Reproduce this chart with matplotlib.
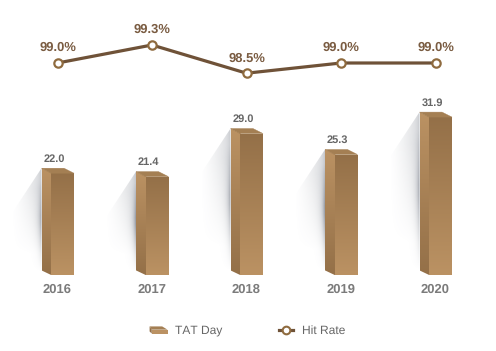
import numpy as np
import matplotlib
matplotlib.use('Agg')
import matplotlib.pyplot as plt
from matplotlib.lines import Line2D
from matplotlib.patches import Patch, Polygon
from matplotlib.legend_handler import HandlerBase

plt.rcParams['font.family'] = ['Liberation Sans', 'DejaVu Sans']
plt.rcParams['text.hinting'] = 'none'
plt.rcParams['text.hinting_factor'] = 1

years = ['2016', '2017', '2018', '2019', '2020']
tat_day = [22.0, 21.4, 29.0, 25.3, 31.9]
hit_rate_labels = ['99.0%', '99.3%', '98.5%', '99.0%', '99.0%']
# the 2018 point sits much higher than 98.5 would on the drawn scale, so keep its drawn height
hit_rate = [99.0, 99.3, 98.83, 99.0, 99.0]

W, H = 496, 351
PX_X = 94.5    # pixels per category
PX_V = 5.66    # pixels per TAT day
PX_R = 60.0    # pixels per hit rate point
BASE = 3.09    # TAT value at the bars' foot

LIGHT = np.array([187, 146, 99]) / 255
DARK = np.array([148, 112, 72]) / 255

fig = plt.figure(figsize=(W / 100, H / 100), dpi=100)
ax = fig.add_axes([0, 0, 1, 1])
ax.axis('off')
xlim = (-57.5 / PX_X, (W - 57.5) / PX_X)
ylim = (-10.25, 51.68)


def vgrad(top, bottom, poly, zorder=3):
    # vertical colour gradient clipped to a polygon
    t = np.linspace(0, 1, 64)[:, None, None]
    img = top * (1 - t) + bottom * t
    xs, ys = zip(*poly)
    im = ax.imshow(img, extent=(min(xs), max(xs), min(ys), max(ys)), origin='upper',
                   aspect='auto', interpolation='bilinear', zorder=zorder)
    patch = Polygon(poly, closed=True, transform=ax.transData, fill=False, edgecolor='none')
    ax.add_patch(patch)
    im.set_clip_path(patch)


def shadow(x_edge, top):
    # soft grey cast shadow left of the bar
    dx = 31 / PX_X
    dy = 47 / PX_V
    poly = [(x_edge, top), (x_edge - dx, top - dy), (x_edge - dx, BASE), (x_edge, BASE)]
    u = np.linspace(1, 0, 80)    # 0 at the bar
    v = np.linspace(0, 1, 120)   # 0 at the bar top
    uu, vv = np.meshgrid(u, v)
    ridge = 0.6 * np.exp(-uu / 0.09) * np.clip(vv / 0.45, 0.25, 1) * np.clip((0.97 - vv) / 0.45, 0, 1)
    broad = 0.26 * (1 - uu) ** 1.3 * np.clip((0.8 - vv) / 0.6, 0, 1)
    img = np.zeros((120, 80, 4))
    img[..., :3] = np.array([112, 118, 130]) / 255
    img[..., 3] = np.clip(ridge + broad, 0, 1)
    im = ax.imshow(img, extent=(x_edge - dx, x_edge, BASE, top), origin='upper',
                   aspect='auto', interpolation='bilinear', zorder=2)
    patch = Polygon(poly, closed=True, transform=ax.transData, fill=False, edgecolor='none')
    ax.add_patch(patch)
    im.set_clip_path(patch)


for i, (year, val) in enumerate(zip(years, tat_day)):
    x0 = i - 16 / PX_X      # back left
    x1 = i - 6.5 / PX_X     # front left
    x2 = i + 16.5 / PX_X    # front right
    x3 = i + 6.5 / PX_X     # back right
    d = 5 / PX_V
    shadow(x0, val)
    # side face, runs under the front face so no seam shows
    vgrad(LIGHT, DARK, [(x0, val), (x1 + 1 / PX_X, val - d), (x1 + 1 / PX_X, BASE), (x0, BASE + d)])
    # front face
    vgrad(DARK, LIGHT, [(x1, val - d), (x2, val - d), (x2, BASE), (x1, BASE)], zorder=3.1)
    # top face
    ax.add_patch(Polygon([(x0, val), (x3, val), (x2, val - d), (x1, val - d)], closed=True,
                         facecolor='#a47f53', edgecolor='#a47f53', lw=0.3, zorder=3.2))
    ax.text(i - 3.5 / PX_X, val + 4 / PX_V, f'{val:.1f}', ha='center', va='bottom',
            fontsize=8.1, fontweight='bold', color='#666666', zorder=5)
    ax.text(i, BASE - 14 / PX_V, year, ha='center', va='center',
            fontsize=9.3, fontweight='bold', color='#7b7b7b', zorder=5)

ax.set_xlim(xlim)
ax.set_ylim(ylim)

ax2 = ax.twinx()
ax2.axis('off')
ax2.set_ylim(99 - 288 / PX_R, 99 + 63 / PX_R)
ax2.plot(range(len(years)), hit_rate, color='#6f5238', lw=2.3, marker='o', ms=6, mfc='white',
         mec='#8f6b3f', mew=1.6, zorder=4)
for i, (r, lab) in enumerate(zip(hit_rate, hit_rate_labels)):
    ax2.text(i, r + 9 / PX_R, lab, ha='center', va='bottom', fontsize=9.0,
             color='#7a5c42', fontweight='bold')


class BoxHandler(HandlerBase):
    def create_artists(self, legend, orig, xd, yd, w, h, fs, trans):
        top = Polygon([(0, h), (w * 0.7, h), (w, h * 0.55), (w * 0.12, h * 0.55)], closed=True,
                      facecolor='#a47f53', edgecolor='none', transform=trans)
        front = Polygon([(w * 0.12, h * 0.55), (w, h * 0.55), (w, 0), (w * 0.12, 0)], closed=True,
                        facecolor=LIGHT, edgecolor='none', transform=trans)
        side = Polygon([(0, h), (w * 0.12, h * 0.55), (w * 0.12, 0), (0, h * 0.3)], closed=True,
                       facecolor=DARK, edgecolor='none', transform=trans)
        return [top, front, side]


class ShortLineHandler(HandlerBase):
    def create_artists(self, legend, orig, xd, yd, w, h, fs, trans):
        line = Line2D([w * 0.13, w * 0.87], [h / 2, h / 2], color=orig.get_color(),
                      lw=orig.get_linewidth(), transform=trans)
        ring = Line2D([w / 2], [h / 2], marker='o', ms=orig.get_markersize(), mfc='white',
                      mec=orig.get_markeredgecolor(), mew=orig.get_markeredgewidth(),
                      ls='none', transform=trans)
        return [line, ring]


handles = [Patch(label='TAT Day'),
           Line2D([0], [0], color='#6f5238', lw=2.3, marker='o', ms=5.5, mfc='white', mec='#8f6b3f',
                  mew=1.5, label='Hit Rate')]
leg = ax2.legend(handles=handles, handler_map={Patch: BoxHandler(), Line2D: ShortLineHandler()},
                 ncol=2, frameon=False, loc='center', bbox_to_anchor=(247.5 / W, 1 - 330.5 / H),
                 fontsize=8.6, labelcolor='#666666', handlelength=1.5, handletextpad=0.6,
                 columnspacing=4.6, handleheight=0.55, borderpad=0)

fig.savefig('out.png', dpi=100)
